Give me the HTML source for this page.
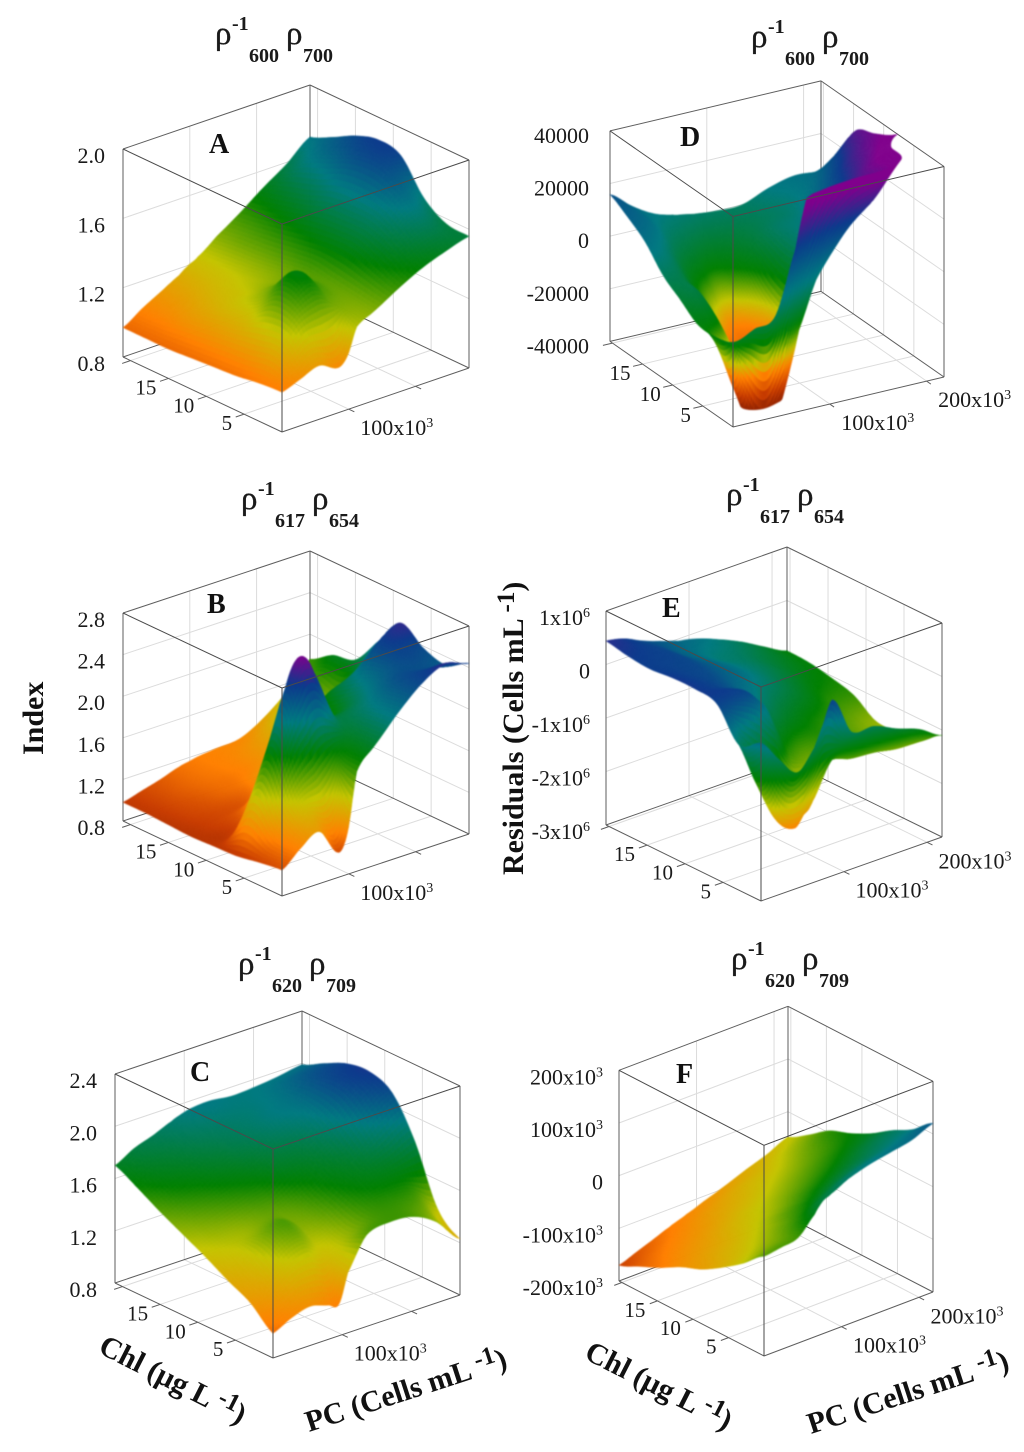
<!DOCTYPE html>
<html lang="en">
<head>
<meta charset="utf-8">
<title>Spectral index and residual surfaces</title>
<style>
html,body{margin:0;padding:0;background:#fff;}
svg{display:block;}
text{font-family:"Liberation Serif","DejaVu Serif",serif;fill:#1a1a1a;}
.ttl{font-size:33px;stroke:#1a1a1a;stroke-width:0.35px;}
.sub{font-size:20px;font-weight:bold;}
.let{font-size:28px;font-weight:bold;fill:#111;}
.axt{font-size:30px;font-weight:bold;fill:#111;}
.sup{font-size:25px;}
</style>
</head>
<body>
<svg id="figure" xmlns="http://www.w3.org/2000/svg" width="1024" height="1452" viewBox="0 0 1024 1452">
  <defs>
    <filter id="soften" filterUnits="userSpaceOnUse" x="0" y="0" width="1024" height="1452" color-interpolation-filters="sRGB">
      <feGaussianBlur stdDeviation="0.8"/>
    </filter>
  </defs>
  <rect x="0" y="0" width="1024" height="1452" fill="#ffffff"/>
  <g id="plots"></g>

  <g transform="translate(215,44)">
    <text class="ttl" x="0" y="0">ρ</text><text class="sub" x="17" y="-14">-1</text><text class="sub" x="34" y="18">600</text><text class="ttl" x="71" y="0">ρ</text><text class="sub" x="88" y="18">700</text>
  </g>
  <g transform="translate(241,509)">
    <text class="ttl" x="0" y="0">ρ</text><text class="sub" x="17" y="-14">-1</text><text class="sub" x="34" y="18">617</text><text class="ttl" x="71" y="0">ρ</text><text class="sub" x="88" y="18">654</text>
  </g>
  <g transform="translate(238,974)">
    <text class="ttl" x="0" y="0">ρ</text><text class="sub" x="17" y="-14">-1</text><text class="sub" x="34" y="18">620</text><text class="ttl" x="71" y="0">ρ</text><text class="sub" x="88" y="18">709</text>
  </g>
  <g transform="translate(751,47)">
    <text class="ttl" x="0" y="0">ρ</text><text class="sub" x="17" y="-14">-1</text><text class="sub" x="34" y="18">600</text><text class="ttl" x="71" y="0">ρ</text><text class="sub" x="88" y="18">700</text>
  </g>
  <g transform="translate(726,505)">
    <text class="ttl" x="0" y="0">ρ</text><text class="sub" x="17" y="-14">-1</text><text class="sub" x="34" y="18">617</text><text class="ttl" x="71" y="0">ρ</text><text class="sub" x="88" y="18">654</text>
  </g>
  <g transform="translate(731,969)">
    <text class="ttl" x="0" y="0">ρ</text><text class="sub" x="17" y="-14">-1</text><text class="sub" x="34" y="18">620</text><text class="ttl" x="71" y="0">ρ</text><text class="sub" x="88" y="18">709</text>
  </g>

  <text class="let" x="209" y="153">A</text>
  <text class="let" x="207" y="613">B</text>
  <text class="let" x="190" y="1081">C</text>
  <text class="let" x="680" y="146">D</text>
  <text class="let" x="662" y="617">E</text>
  <text class="let" x="676" y="1083">F</text>

  <text class="axt" transform="translate(43,755) rotate(-90)">Index</text>
  <text class="axt" transform="translate(523,875) rotate(-90)">Residuals (Cells mL <tspan class="sup" dy="-9">-1</tspan><tspan dy="9">)</tspan></text>

  <text class="axt" transform="translate(97,1352) rotate(27)">Chl (μg L <tspan class="sup" dy="-9">-1</tspan><tspan dy="9">)</tspan></text>
  <text class="axt" transform="translate(309,1432) rotate(-18)">PC (Cells mL <tspan class="sup" dy="-9">-1</tspan><tspan dy="9">)</tspan></text>
  <text class="axt" transform="translate(583,1358) rotate(27)">Chl (μg L <tspan class="sup" dy="-9">-1</tspan><tspan dy="9">)</tspan></text>
  <text class="axt" transform="translate(811,1434) rotate(-18)">PC (Cells mL <tspan class="sup" dy="-9">-1</tspan><tspan dy="9">)</tspan></text>
</svg>

<script>
// ---------- shared axis values ----------
const chlValuesLeft = [0, 3, 6, 9, 12, 15, 18, 21];
const chlValuesRight = [0, 2.9, 5.8, 8.7, 11.6, 14.6, 17.5, 20.4];
const pcValuesAB = [0, 28, 56, 84, 98, 112, 140, 175, 210, 245, 280];
const pcValuesC = [0, 27, 54, 81, 95, 108, 135, 169, 203, 236, 270];
const pcValuesRight = [0, 22, 44, 65, 76, 87, 109, 136, 164, 191, 218];
const chlTicks = [5, 10, 15, 20];
const chlTickLabels = ["5", "10", "15", ""];
const pcTicks = [100, 200];
const pcTickLabelsLeft = ["100x10^3", ""];
const pcTickLabelsRight = ["100x10^3", "200x10^3"];

// ---------- panel A ---------- rows = Chl, columns = PC
const zTicksA = [0.8, 1.2, 1.6, 2.0];
const zLabelsA = ["0.8", "1.2", "1.6", "2.0"];
const surfaceA = [
  [1.03,1.07,1.11,1.06,1.11,1.26,1.32,1.40,1.47,1.52,1.56],
  [1.02,1.16,1.30,1.35,1.35,1.33,1.34,1.45,1.56,1.62,1.57],
  [1.00,1.14,1.33,1.47,1.47,1.40,1.36,1.50,1.63,1.74,1.66],
  [0.99,1.12,1.23,1.33,1.34,1.34,1.38,1.50,1.64,1.81,1.84],
  [0.98,1.10,1.20,1.24,1.27,1.29,1.36,1.48,1.63,1.80,1.87],
  [0.97,1.08,1.16,1.21,1.23,1.26,1.34,1.45,1.58,1.74,1.83],
  [0.97,1.05,1.12,1.18,1.21,1.24,1.33,1.42,1.54,1.68,1.76],
  [0.97,1.04,1.10,1.16,1.20,1.23,1.31,1.40,1.50,1.59,1.70]
];
// ---------- panel B ----------
const zTicksB = [0.8, 1.2, 1.6, 2.0, 2.4, 2.8];
const zLabelsB = ["0.8", "1.2", "1.6", "2.0", "2.4", "2.8"];
const surfaceB = [
  [1.05,1.20,1.30,1.04,1.20,1.76,1.96,2.20,2.40,2.51,2.44],
  [1.02,1.24,1.56,1.70,1.80,1.88,1.96,2.16,2.36,2.36,2.32],
  [0.98,1.50,2.04,2.52,2.68,2.54,2.04,2.04,2.24,2.40,2.38],
  [0.97,1.02,1.20,1.70,2.00,2.04,1.90,1.84,2.12,2.40,2.52],
  [0.96,1.00,1.04,1.10,1.20,1.36,1.50,1.64,1.92,1.92,2.24],
  [0.97,1.02,1.06,1.12,1.14,1.18,1.26,1.40,1.60,1.64,1.96],
  [0.98,1.03,1.09,1.14,1.16,1.18,1.22,1.32,1.52,1.68,1.90],
  [0.98,1.03,1.08,1.14,1.16,1.18,1.20,1.22,1.34,1.52,1.76]
];
// ---------- panel C ----------
const zTicksC = [0.8, 1.2, 1.6, 2.0, 2.4];
const zLabelsC = ["0.8", "1.2", "1.6", "2.0", "2.4"];
const surfaceC = [
  [0.99,1.06,1.10,1.06,1.04,1.26,1.50,1.54,1.52,1.42,1.23],
  [1.14,1.20,1.33,1.38,1.34,1.33,1.42,1.54,1.57,1.54,1.38],
  [1.23,1.30,1.44,1.52,1.49,1.44,1.49,1.60,1.68,1.73,1.81],
  [1.33,1.38,1.41,1.47,1.49,1.50,1.57,1.68,1.79,1.98,2.10],
  [1.42,1.47,1.52,1.57,1.60,1.63,1.73,1.79,1.92,2.11,2.18],
  [1.51,1.58,1.63,1.70,1.73,1.78,1.84,1.92,1.98,2.11,2.16],
  [1.61,1.68,1.74,1.81,1.84,1.86,1.89,1.92,1.97,2.05,2.08],
  [1.70,1.78,1.83,1.89,1.92,1.94,1.95,1.93,1.94,1.96,1.99]
];
// ---------- panel D ---------- (z in thousands of cells per mL)
const zTicksD = [-40, -20, 0, 20, 40];
const zLabelsD = ["-40000", "-20000", "0", "20000", "40000"];
const surfaceD = [
  [-8.8,-4.8,-1.6,22.4,40,52,60,64,64,64,64],
  [-10.4,-33.6,-52,-44,-30.4,-13.6,8,20.8,28,40,48],
  [-10.4,-13.6,-28,-33.6,-28.8,-20,-8,8,28,37.6,44],
  [-5.6,-5.6,-26.4,-28.8,-28.8,-26.4,-17.6,4,20,32,38],
  [-0.8,-4,-16,-24,-24.8,-23.2,-16,0,9.6,26,34],
  [7.2,1.6,-8,-13.6,-16,-14.4,-9.6,0,4,16,30.4],
  [12,8,0,-4,-5.6,-6.4,-4.8,-1.6,1.6,8,17.6],
  [15.8,9.6,4.8,2.4,1.6,0.8,0,0,4,6.4,5.6]
];
// ---------- panel E ---------- (z in millions of cells per mL)
const zTicksE = [-3, -2, -1, 0, 1];
const zLabelsE = ["-3x10^6", "-2x10^6", "-1x10^6", "0", "1x10^6"];
const surfaceE = [
  [-0.05,-0.48,-0.84,-0.48,-0.08,0.28,-0.44,-0.48,-0.68,-0.84,-1.10],
  [-0.28,-1.16,-1.92,-2.20,-2.04,-1.86,-1.20,-1.28,-1.32,-1.40,-1.40],
  [0.28,0.20,0.04,-0.36,-0.80,-1.16,-1.32,-1.16,-1.24,-1.40,-1.44],
  [0.36,0.28,0.12,-0.12,-0.24,-0.44,-0.76,-1.00,-1.16,-1.32,-1.44],
  [0.36,0.28,0.20,0.04,-0.04,-0.12,-0.32,-0.60,-0.88,-1.12,-1.16],
  [0.32,0.28,0.24,0.08,0,-0.08,-0.24,-0.44,-0.68,-0.92,-1.04],
  [0.36,0.32,0.24,0.04,-0.04,-0.12,-0.28,-0.40,-0.60,-0.80,-0.96],
  [0.44,0.36,0.20,0.08,0.02,-0.04,-0.12,-0.28,-0.48,-0.72,-0.94]
];
// ---------- panel F ---------- (z in thousands of cells per mL)
const zTicksF = [-200, -100, 0, 100, 200];
const zLabelsF = ["-200x10^3", "-100x10^3", "0", "100x10^3", "200x10^3"];
const surfaceF = [
  [-11,-6,0,32,52,60,76,88,96,104,120],
  [-44,-32,-20,0,12,24,40,56,68,80,88],
  [-72,-60,-44,-28,-16,-8,8,24,40,56,66],
  [-96,-80,-68,-52,-44,-36,-20,-4,12,28,40],
  [-112,-100,-88,-72,-64,-56,-44,-28,-12,4,20],
  [-134,-120,-108,-96,-88,-80,-68,-52,-36,-16,4],
  [-152,-140,-128,-116,-108,-100,-88,-72,-60,-40,-24],
  [-170,-158,-146,-134,-128,-122,-110,-96,-80,-66,-48]
];

// ---------- colour scale: dark red, red-orange, orange, yellow, green, teal, navy, purple ----------
const colourRGB = [[90,8,0],[200,60,0],[255,128,0],[196,196,0],[0,128,0],[0,122,128],[12,58,140],[128,0,140]];

// ---------- panel layout ----------
const panels = [
  {id:"a", rs:10, cs:7, box:{fx:282,fy:432,ux:-159,uy:-75,vx:187,vy:-64,h:208}, chl:chlValuesLeft, chlMax:21, pc:pcValuesAB, pcMax:280, zr:[0.8,2.0], cl:[0.67,0.86,1.03,1.24,1.46,1.68,1.87,2.03], z:surfaceA, zt:zTicksA, zl:zLabelsA, pl:pcTickLabelsLeft, zdx:18, zdy:14},
  {id:"b", rs:14, cs:9, box:{fx:282,fy:896,ux:-159,uy:-75,vx:187,vy:-62,h:208}, chl:chlValuesLeft, chlMax:21, pc:pcValuesAB, pcMax:280, zr:[0.8,2.8], cl:[0.75,1.0,1.18,1.5,1.85,2.15,2.45,2.7], z:surfaceB, zt:zTicksB, zl:zLabelsB, pl:pcTickLabelsLeft, zdx:18, zdy:14},
  {id:"c", rs:10, cs:7, box:{fx:273,fy:1358,ux:-158,uy:-75,vx:187,vy:-63,h:209}, chl:chlValuesLeft, chlMax:21, pc:pcValuesC, pcMax:270, zr:[0.8,2.4], cl:[0.67,0.9,1.03,1.36,1.62,1.94,2.17,2.38], z:surfaceC, zt:zTicksC, zl:zLabelsC, pl:pcTickLabelsLeft, zdx:18, zdy:14},
  {id:"d", rs:16, cs:10, box:{fx:733,fy:427,ux:-123,uy:-85.6,vx:211,vy:-50,h:210.5}, chl:chlValuesRight, chlMax:20.4, pc:pcValuesRight, pcMax:218, zr:[-40,40], cl:[-46,-34,-26,-20,-12,4,22,36], z:surfaceD, zt:zTicksD, zl:zLabelsD, pl:pcTickLabelsRight, zdx:21, zdy:12},
  {id:"e", rs:14, cs:9, box:{fx:761,fy:901,ux:-155,uy:-76,vx:181,vy:-64,h:214}, chl:chlValuesRight, chlMax:20.4, pc:pcValuesRight, pcMax:218, zr:[-3,1], cl:[-3,-2.54,-2.2,-1.6,-1.0,-0.2,0.34,0.8], z:surfaceE, zt:zTicksE, zl:zLabelsE, pl:pcTickLabelsRight, zdx:16, zdy:14},
  {id:"f", rs:10, cs:7, box:{fx:764,fy:1356,ux:-145,uy:-75,vx:169,vy:-64,h:210.7}, chl:chlValuesRight, chlMax:20.4, pc:pcValuesRight, pcMax:218, zr:[-200,200], cl:[-225,-174,-132,-47,20,88,147,197], z:surfaceF, zt:zTicksF, zl:zLabelsF, pl:pcTickLabelsRight, zdx:16, zdy:14}
];

const NS = "http://www.w3.org/2000/svg";

function make(tag, parent, attrs) {
  const el = document.createElementNS(NS, tag);
  for (const k in attrs) el.setAttribute(k, attrs[k]);
  parent.appendChild(el);
  return el;
}

// axis functions
function chlScale(p, chl) { return chl / p.chlMax; }
function pcScale(p, pc) { return pc / p.pcMax; }
function zScale(p, z) { return (z - p.zr[0]) / (p.zr[1] - p.zr[0]); }
function project(p, chl, pc, z) {
  const u = chlScale(p, chl), v = pcScale(p, pc), f = zScale(p, z), b = p.box;
  return [b.fx + b.ux * u + b.vx * v, b.fy + b.uy * u + b.vy * v - b.h * f];
}

function colourFor(p, z) {
  const L = p.cl;
  const c0 = Math.max(L[0], Math.min(L[L.length - 1], z));
  let i = 0;
  while (i < L.length - 2 && c0 > L[i + 1]) i++;
  const s = (c0 - L[i]) / (L[i + 1] - L[i]);
  const a = colourRGB[i], c = colourRGB[i + 1];
  return "rgb(" + Math.round(a[0] + (c[0] - a[0]) * s) + "," + Math.round(a[1] + (c[1] - a[1]) * s) + "," + Math.round(a[2] + (c[2] - a[2]) * s) + ")";
}

function catmull(a, b, c, d, t) {
  return 0.5 * (2 * b + (c - a) * t + (2 * a - 5 * b + 4 * c - d) * t * t + (3 * b - a - 3 * c + d) * t * t * t);
}
function pick(arr, i) { return arr[Math.max(0, Math.min(arr.length - 1, i))]; }
function sampleSurface(grid, r, c) {
  const r0 = Math.min(Math.floor(r), grid.length - 2), tr = r - r0;
  const c0 = Math.min(Math.floor(c), grid[0].length - 2), tc = c - c0;
  const vals = [];
  for (let k = -1; k <= 2; k++) {
    const row = pick(grid, r0 + k);
    vals.push(catmull(pick(row, c0 - 1), pick(row, c0), pick(row, c0 + 1), pick(row, c0 + 2), tc));
  }
  return catmull(vals[0], vals[1], vals[2], vals[3], tr);
}
function lerpAt(arr, x) {
  const i = Math.min(Math.floor(x), arr.length - 2);
  return arr[i] + (arr[i + 1] - arr[i]) * (x - i);
}

// clip a cell polygon against a z plane (the surface is cut at the box floor and ceiling)
function clipZ(verts, limit, keepBelow) {
  const out = [];
  for (let i = 0; i < verts.length; i++) {
    const a = verts[i], b = verts[(i + 1) % verts.length];
    const inA = keepBelow ? a[2] <= limit : a[2] >= limit;
    const inB = keepBelow ? b[2] <= limit : b[2] >= limit;
    if (inA) out.push(a);
    if (inA !== inB) {
      const t = (limit - a[2]) / (b[2] - a[2]);
      out.push([a[0] + (b[0] - a[0]) * t, a[1] + (b[1] - a[1]) * t, limit]);
    }
  }
  return out;
}

function addLabel(parent, str, x, y, anchor, size) {
  const t = make("text", parent, {x: x, y: y, "text-anchor": anchor, "font-size": size});
  const parts = str.split("^");
  t.appendChild(document.createTextNode(parts[0]));
  if (parts[1]) {
    const s = make("tspan", t, {dy: -8, "font-size": Math.round(size * 0.62)});
    s.textContent = parts[1];
  }
  return t;
}

function drawPanel(p, root) {
  const g = make("g", root, {});
  
  

  const zMin = p.zr[0], zMax = p.zr[1];
  const chlEnd = p.chlMax, pcEnd = p.pcMax;
  const P = function (chl, pc, z) { return project(p, chl, pc, z); };
  const seg = function (parent, a, b, col, w) {
    return make("line", parent, {x1: a[0], y1: a[1], x2: b[0], y2: b[1], stroke: col, "stroke-width": w});
  };

  // back walls and floor grid
  const grid = make("g", g, {});
  
  
  p.zt.forEach(function (z) {
    if (z === zMin || z === zMax) return;
    seg(grid, P(chlEnd, 0, z), P(chlEnd, pcEnd, z), "#dcdcdc", 1);
    seg(grid, P(chlEnd, pcEnd, z), P(0, pcEnd, z), "#dcdcdc", 1);
  });
  pcTicks.forEach(function (pc) {
    seg(grid, P(chlEnd, pc, zMin), P(chlEnd, pc, zMax), "#dcdcdc", 1);
    seg(grid, P(0, pc, zMin), P(chlEnd, pc, zMin), "#dcdcdc", 1);
  });
  chlTicks.forEach(function (chl) {
    seg(grid, P(chl, pcEnd, zMin), P(chl, pcEnd, zMax), "#dcdcdc", 1);
    seg(grid, P(chl, 0, zMin), P(chl, pcEnd, zMin), "#dcdcdc", 1);
  });

  // box edges behind the surface
  const back = make("g", g, {});
  
  
  const edge = "#5e5e5e";
  seg(back, P(chlEnd, 0, zMax), P(chlEnd, pcEnd, zMax), edge, 1);
  seg(back, P(chlEnd, pcEnd, zMax), P(0, pcEnd, zMax), edge, 1);
  seg(back, P(chlEnd, pcEnd, zMin), P(chlEnd, pcEnd, zMax), edge, 1);
  seg(back, P(chlEnd, 0, zMin), P(chlEnd, pcEnd, zMin), edge, 1);
  seg(back, P(chlEnd, pcEnd, zMin), P(0, pcEnd, zMin), edge, 1);
  seg(back, P(chlEnd, 0, zMin), P(chlEnd, 0, zMax), edge, 1);
  seg(back, P(0, pcEnd, zMin), P(0, pcEnd, zMax), edge, 1);
  seg(back, P(chlEnd, 0, zMin), P(0, 0, zMin), edge, 1);
  seg(back, P(0, 0, zMin), P(0, pcEnd, zMin), edge, 1);

  // ticks and tick labels
  const ticks = make("g", g, {});
  
  
  chlTicks.forEach(function (chl, i) {
    const a = P(chl, 0, zMin), b = P(chl, -0.045 * pcEnd, zMin);
    seg(ticks, a, b, edge, 1);
    if (chlTickLabels[i]) {
      const t = addLabel(ticks, chlTickLabels[i], a[0] - 12, a[1] + 16, "end", 21);
      
      
    }
  });
  pcTicks.forEach(function (pc, i) {
    const a = P(0, pc, zMin), b = P(-0.035 * chlEnd, pc, zMin);
    seg(ticks, a, b, edge, 1);
    if (p.pl[i]) {
      const t = addLabel(ticks, p.pl[i], a[0] + 48, a[1] + 26, "middle", 22);
      
      
    }
  });
  p.zt.forEach(function (z, i) {
    const a = P(chlEnd, 0, z);
    const t = addLabel(ticks, p.zl[i], a[0] - p.zdx, a[1] + p.zdy, "end", 22);
    
    
  });

  // surface: sample the value grid and paint far cells first
  const surf = make("g", g, {filter: "url(#soften)"});
  
  
  const nR = (p.z.length - 1) * p.rs;
  const nC = (p.z[0].length - 1) * p.cs;
  const Z = [], CH = [], PC = [];
  for (let r = 0; r <= nR; r++) {
    const row = [];
    for (let c = 0; c <= nC; c++) row.push(sampleSurface(p.z, r / p.rs, c / p.cs));
    Z.push(row);
    CH.push(lerpAt(p.chl, r / p.rs));
  }
  for (let c = 0; c <= nC; c++) PC.push(lerpAt(p.pc, c / p.cs));
  for (let r = nR - 1; r >= 0; r--) {
    for (let c = nC - 1; c >= 0; c--) {
      let verts = [
        [CH[r], PC[c], Z[r][c]],
        [CH[r], PC[c + 1], Z[r][c + 1]],
        [CH[r + 1], PC[c + 1], Z[r + 1][c + 1]],
        [CH[r + 1], PC[c], Z[r + 1][c]]
      ];
      verts = clipZ(verts, zMax, true);
      if (verts.length < 3) continue;
      verts = clipZ(verts, zMin, false);
      if (verts.length < 3) continue;
      let sum = 0;
      const pts = [];
      for (let k = 0; k < verts.length; k++) {
        sum += verts[k][2];
        const q = P(verts[k][0], verts[k][1], verts[k][2]);
        pts.push(q[0].toFixed(1) + "," + q[1].toFixed(1));
      }
      const col = colourFor(p, sum / verts.length);
      const cell = document.createElementNS(NS, "polygon");
      cell.setAttribute("points", pts.join(" "));
      cell.setAttribute("fill", col);
      cell.setAttribute("stroke", col);
      cell.setAttribute("stroke-width", "0.5");
      
      
      surf.appendChild(cell);
    }
  }

  // box edges in front of the surface
  const front = make("g", g, {});
  
  
  seg(front, P(chlEnd, 0, zMax), P(0, 0, zMax), "#4a4a4a", 1);
  seg(front, P(0, 0, zMax), P(0, pcEnd, zMax), "#4a4a4a", 1);
  seg(front, P(0, 0, zMin), P(0, 0, zMax), "#4a4a4a", 1);
}

const plots = document.getElementById("plots");
panels.forEach(function (p) { drawPanel(p, plots); });
</script>
</body>
</html>
